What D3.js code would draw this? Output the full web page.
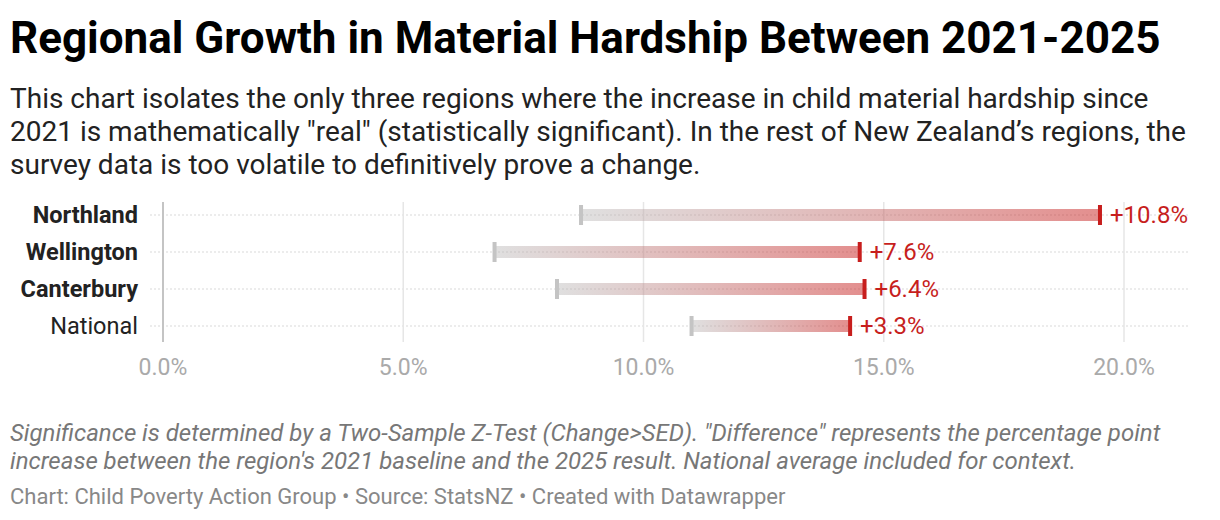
<!DOCTYPE html>
<html>
<head>
<meta charset="utf-8">
<script src="https://cdn.jsdelivr.net/npm/d3@7"></script>
<style>
  body { margin: 0; background: #fff; font-family: Roboto, sans-serif; }
  #chart { width: 1220px; height: 520px; }
</style>
</head>
<body>
<div id="chart"></div>
<script>
// data
var regions = ['Northland', 'Wellington', 'Canterbury', 'National'];
var significant = [true, true, true, false];
var rate2021 = [8.7, 6.9, 8.2, 11.0];
var rate2025 = [19.5, 14.5, 14.6, 14.3];
var diffLabels = ['+10.8%', '+7.6%', '+6.4%', '+3.3%'];
var xTicks = [0, 5, 10, 15, 20];

var W = 1220, H = 520;
var svg = d3.select('#chart').append('svg')
    .attr('width', W)
    .attr('height', H);

// title + subtitle
svg.append('text')
    .attr('x', 10).attr('y', 53)
    .attr('font-size', '44px').attr('font-weight', 700)
    .attr('fill', '#000')
    .text('Regional Growth in Material Hardship Between 2021-2025');

var sub = [
    'This chart isolates the only three regions where the increase in child material hardship since',
    '2021 is mathematically "real" (statistically significant). In the rest of New Zealand\u2019s regions, the',
    'survey data is too volatile to definitively prove a change.'
];
svg.selectAll('.sub').data(sub).enter().append('text')
    .attr('class', 'sub')
    .attr('x', 10).attr('y', (d, i) => 108 + i * 33)
    .attr('font-size', '28px').attr('fill', '#222')
    .text(d => d);

// chart area
var x = d3.scaleLinear().domain([0, 20]).range([163, 1124]);
var y = d3.scalePoint().domain(regions).range([215, 326]);

var defs = svg.append('defs');
regions.forEach((r, i) => {
    var gr = defs.append('linearGradient')
        .attr('id', 'grad' + i)
        .attr('x1', '0%').attr('x2', '100%');
    gr.append('stop').attr('offset', '0%').attr('stop-color', '#b9b9b9').attr('stop-opacity', 0.45);
    gr.append('stop').attr('offset', '100%').attr('stop-color', '#c71e1d').attr('stop-opacity', 0.5);
});

// row dotted lines
svg.selectAll('.row').data(regions).enter().append('line')
    .attr('x1', 150).attr('x2', 1188)
    .attr('y1', d => y(d)).attr('y2', d => y(d))
    .attr('stroke', '#d9d9d9').attr('stroke-width', 1)
    .attr('stroke-dasharray', '2,2');

// gridlines
svg.selectAll('.grid').data(xTicks).enter().append('line')
    .attr('x1', d => x(d)).attr('x2', d => x(d))
    .attr('y1', 202).attr('y2', 342)
    .attr('stroke', d => d === 0 ? '#c4c4c4' : '#e6e6e6')
    .attr('stroke-width', d => d === 0 ? 2 : 1.5);

// tick labels
svg.selectAll('.tick').data(xTicks).enter().append('text')
    .attr('x', d => x(d)).attr('y', 375)
    .attr('text-anchor', 'middle')
    .attr('font-size', '23px').attr('fill', '#aaa')
    .text(d => d.toFixed(1) + '%');

// bars
svg.selectAll('.bar').data(regions).enter().append('rect')
    .attr('x', (d, i) => x(rate2021[i]))
    .attr('width', (d, i) => x(rate2025[i]) - x(rate2021[i]))
    .attr('y', d => y(d) - 6)
    .attr('height', 12)
    .attr('fill', (d, i) => 'url(#grad' + i + ')');

// start caps
svg.selectAll('.cap0').data(regions).enter().append('rect')
    .attr('x', (d, i) => x(rate2021[i]) - 2)
    .attr('y', d => y(d) - 10)
    .attr('width', 4).attr('height', 20)
    .attr('fill', '#c4c4c4');

// end caps
svg.selectAll('.cap1').data(regions).enter().append('rect')
    .attr('x', (d, i) => x(rate2025[i]) - 2)
    .attr('y', d => y(d) - 10)
    .attr('width', 4).attr('height', 20)
    .attr('fill', '#c71e1d');

// value labels
svg.selectAll('.val').data(regions).enter().append('text')
    .attr('x', (d, i) => x(rate2025[i]) + 10)
    .attr('y', d => y(d) + 8)
    .attr('font-size', '24px').attr('fill', '#c71e1d')
    .text((d, i) => diffLabels[i]);

// region labels
svg.selectAll('.lab').data(regions).enter().append('text')
    .attr('x', 138)
    .attr('y', d => y(d) + 8)
    .attr('text-anchor', 'end')
    .attr('font-size', '23.5px')
    .attr('font-weight', (d, i) => significant[i] ? 700 : 400)
    .attr('fill', '#222')
    .text(d => d);

// notes
var notes = [
    'Significance is determined by a Two-Sample Z-Test (Change>SED). "Difference" represents the percentage point',
    'increase between the region\'s 2021 baseline and the 2025 result. National average included for context.'
];
svg.selectAll('.note').data(notes).enter().append('text')
    .attr('x', 10).attr('y', (d, i) => 441 + i * 28)
    .attr('font-size', '24px').attr('font-style', 'italic')
    .attr('fill', '#777')
    .text(d => d);

svg.append('text')
    .attr('x', 10).attr('y', 504)
    .attr('font-size', '22px').attr('fill', '#888')
    .text('Chart: Child Poverty Action Group \u2022 Source: StatsNZ \u2022 Created with Datawrapper');
</script>
</body>
</html>
